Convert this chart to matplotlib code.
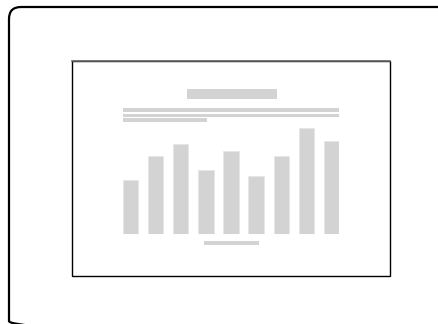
import matplotlib
matplotlib.use('Agg')
import matplotlib.pyplot as plt
from matplotlib.patches import FancyBboxPatch, Rectangle

# bar heights (pixels above the baseline in the thumbnail)
categories = list(range(9))
values = [54, 78, 90, 64, 83, 58, 78, 106, 93]

W, H = 439, 324
grey = '#d3d3d3'

fig = plt.figure(figsize=(W / 100, H / 100), dpi=100)

# background layer in pixel coordinates
bg = fig.add_axes([0, 0, 1, 1])
bg.set_xlim(0, W)
bg.set_ylim(H, 0)
bg.axis('off')

# outer rounded frame, running off the right and bottom edges
bg.add_patch(FancyBboxPatch((9, 7), 460, 326, boxstyle='round,pad=0,rounding_size=12',
                            fill=False, ec='black', lw=1.6))
# inner chart frame
bg.add_patch(Rectangle((72.5, 60.5), 318, 215, fill=False, ec='black', lw=1.0))
bg.plot([72.5, 390.5], [60.5, 60.5], color='#666666', lw=1.2)

# placeholder title, subtitle lines and axis label
for x, y, w, h in [(187, 89, 90, 10), (123, 108, 216, 4), (123, 113.5, 216, 3.5),
                   (123, 118, 84, 4), (204, 240.5, 55, 4)]:
    bg.add_patch(Rectangle((x, y), w, h, fc=grey, ec='none'))

# bars
ax = fig.add_axes([123 / W, (H - 234) / H, (339 - 123) / W, 110 / H])
ax.bar(categories, values, width=0.61, color=grey, edgecolor='#e6e6e6', linewidth=0.6)
ax.set_xlim(-0.305, 8.305)
ax.set_ylim(0, 110)
ax.axis('off')

fig.savefig('out.png', dpi=100)
